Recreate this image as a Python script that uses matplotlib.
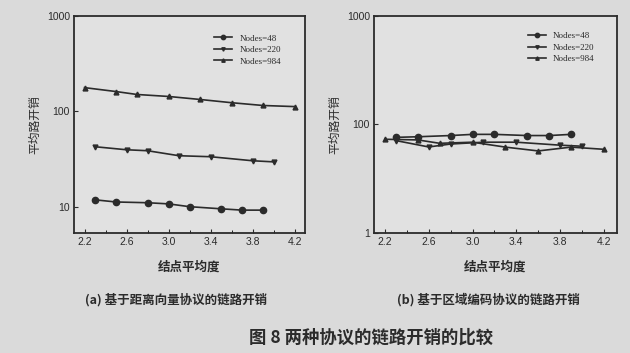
import numpy as np
import matplotlib
matplotlib.use("Agg")
import matplotlib.pyplot as plt
from matplotlib.ticker import MultipleLocator, FixedLocator, NullLocator

plt.rcParams['font.family'] = ['Noto Sans CJK SC', 'DejaVu Sans']

# ====== DATA ======
# (a) distance-vector protocol
a_x48 = [2.3, 2.5, 2.8, 3.0, 3.2, 3.5, 3.7, 3.9]
a_y48 = [11.8, 11.2, 11.0, 10.7, 10.0, 9.5, 9.2, 9.2]
a_x220 = [2.3, 2.6, 2.8, 3.1, 3.4, 3.8, 4.0]
a_y220 = [42.5, 39.5, 38.6, 34.2, 33.4, 30.3, 29.5]
a_x984 = [2.2, 2.5, 2.7, 3.0, 3.3, 3.6, 3.9, 4.2]
a_y984 = [177, 161, 150, 143, 133, 123, 115, 112]

# (b) zone-coding protocol
b_x48 = [2.3, 2.5, 2.8, 3.0, 3.2, 3.5, 3.7, 3.9]
b_y48 = [76, 77, 79, 81, 81, 79, 79, 81]
b_x220 = [2.3, 2.6, 2.8, 3.1, 3.4, 3.8, 4.0]
b_y220 = [71, 62, 66, 68.6, 68.6, 64.4, 63]
b_x984 = [2.2, 2.5, 2.7, 3.0, 3.3, 3.6, 3.9, 4.2]
b_y984 = [73, 72, 67, 68.6, 61.8, 57, 61.8, 59]

labels = ["Nodes=48", "Nodes=220", "Nodes=984"]
xticks = [2.2, 2.6, 3.0, 3.4, 3.8, 4.2]
xlabel = "结点平均度"
ylabel = "平均路开销"
cap_a = "(a) 基于距离向量协议的链路开销"
cap_b = "(b) 基于区域编码协议的链路开销"
fig_cap = "图 8 两种协议的链路开销的比较"
# ==================

BG = '#dadada'
AXBG = '#e1e1e1'
INK = '#2b2b2b'

fig = plt.figure(figsize=(6.3, 3.53), dpi=100, facecolor=BG)
ax1 = fig.add_axes([0.1175, 0.340, 0.3667, 0.615])
ax2 = fig.add_axes([0.5937, 0.340, 0.3857, 0.615])

series_a = [(a_x48, a_y48), (a_x220, a_y220), (a_x984, a_y984)]
series_b = [(b_x48, b_y48), (b_x220, b_y220), (b_x984, b_y984)]
markers = ['o', 'v', '^']
msizes = [4.5, 3.5, 3.5]

for ax, series in [(ax1, series_a), (ax2, series_b)]:
    ax.set_facecolor(AXBG)
    for (x, y), m, ms, lab in zip(series, markers, msizes, labels):
        ax.plot(x, y, color=INK, lw=1.2, marker=m, ms=ms, label=lab)
    ax.set_yscale('log')
    ax.set_xticks(xticks)
    ax.xaxis.set_minor_locator(MultipleLocator(0.2))
    ax.yaxis.set_minor_locator(NullLocator())
    ax.tick_params(direction='in', length=3, width=0.8, colors=INK,
                   labelsize=7.5, pad=3)
    ax.tick_params(which='minor', direction='in', length=2, width=0.6)
    for lbl in ax.get_xticklabels() + ax.get_yticklabels():
        lbl.set_family('Liberation Sans')
    for s in ax.spines.values():
        s.set_color(INK)
        s.set_linewidth(1.3)
    ax.set_xlabel(xlabel, fontsize=9, fontweight='bold', color=INK, labelpad=10)
    ax.set_ylabel(ylabel, fontsize=8.5, color=INK, labelpad=4)
    leg = ax.legend(loc='upper right', frameon=False, handlelength=2.0,
                    markerscale=0.7,
                    prop={'family': 'Liberation Serif', 'size': 6.5},
                    labelspacing=0.35, borderaxespad=0.2)
    for t in leg.get_texts():
        t.set_color(INK)

ax1.set_xlim(2.1, 4.3)
ax1.set_ylim(5.3, 1000)
ax1.yaxis.set_major_locator(FixedLocator([10, 100, 1000]))
ax1.set_yticklabels(['10', '100', '1000'], family='Liberation Sans')
ax1.legend_.set_bbox_to_anchor((0.92, 0.94))

ax2.set_xlim(2.1, 4.32)
ax2.set_ylim(10, 1000)
ax2.yaxis.set_major_locator(FixedLocator([10, 100, 1000]))
ax2.set_yticklabels(['1', '100', '1000'], family='Liberation Sans')
ax2.legend_.set_bbox_to_anchor((0.93, 0.95))

fig.text(0.279, 0.150, cap_a, ha='center', va='center', fontsize=9,
         fontweight='bold', color=INK)
fig.text(0.776, 0.150, cap_b, ha='center', va='center', fontsize=9,
         fontweight='bold', color=INK)
fig.text(0.589, 0.045, fig_cap, ha='center', va='center', fontsize=12.5,
         fontweight='bold', color=INK)

fig.savefig('out.png', dpi=100, facecolor=BG)
